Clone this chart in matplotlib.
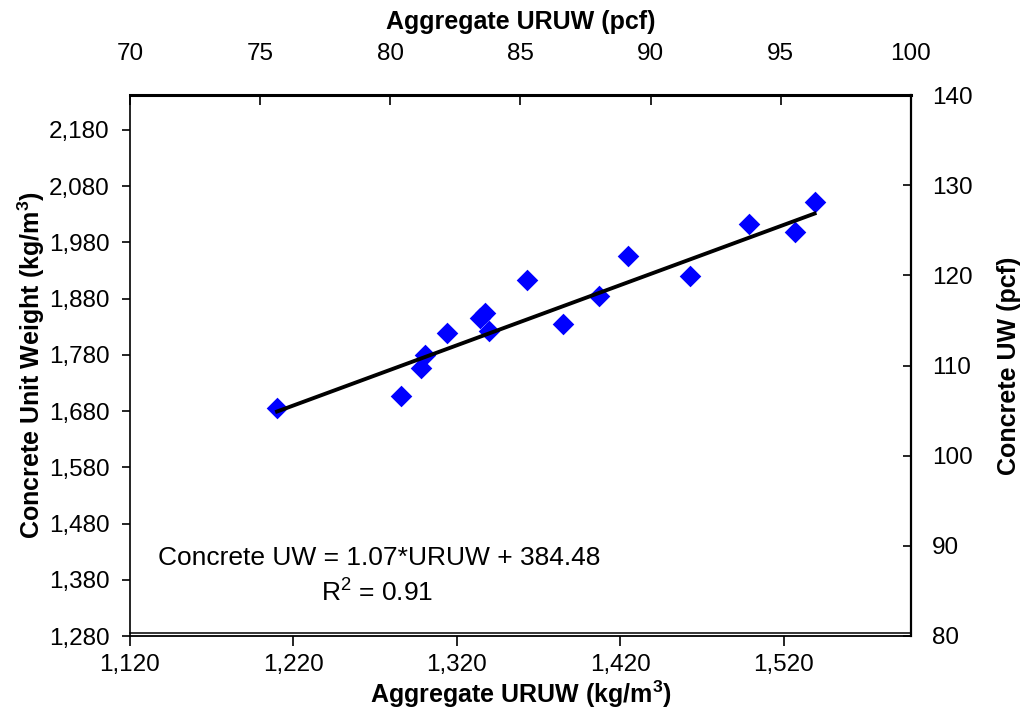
import numpy as np
import matplotlib
matplotlib.use("Agg")
from matplotlib import pyplot as plt
from matplotlib.ticker import FuncFormatter

plt.rcParams['font.family'] = ['Liberation Sans', 'DejaVu Sans']
plt.rcParams['mathtext.fontset'] = 'custom'
plt.rcParams['mathtext.rm'] = 'Liberation Sans'
plt.rcParams['mathtext.bf'] = 'Liberation Sans:bold'
plt.rcParams['mathtext.it'] = 'Liberation Sans:italic'

# Agregado: peso unitario suelto (kg/m3) vs peso unitario del concreto (kg/m3)
uruw = [1210, 1286, 1298, 1300.5, 1314, 1334, 1337, 1340,
        1363, 1385, 1407, 1425, 1463, 1499, 1527, 1539]
cuw = [1686, 1706, 1756, 1779, 1818, 1845, 1854, 1823,
       1913, 1834, 1884, 1956, 1920, 2013, 1998, 2052]

# linea de tendencia reportada
pendiente = 1.07
intercepto = 384.48
r2 = 0.91

x_ticks = [1120, 1220, 1320, 1420, 1520]
y_ticks = [1280, 1380, 1480, 1580, 1680, 1780, 1880, 1980, 2080, 2180]
pcf_x_ticks = [70, 75, 80, 85, 90, 95, 100]
pcf_y_ticks = [80, 90, 100, 110, 120, 130, 140]

fig = plt.figure(figsize=(10.26, 7.14), dpi=100)
ax = fig.add_axes([130/1026, 78/714, 781/1026, 541/714])

ax.scatter(uruw, cuw, marker='D', s=11**2, color='#0000ff', linewidths=0, zorder=2)
xl = np.array([min(uruw), max(uruw)])
ax.plot(xl, pendiente*xl + intercepto, color='black', lw=2.8, zorder=3)

ax.set_xlim(1120, 1598)
ax.set_ylim(1280, 2242)
ax.set_xticks(x_ticks)
ax.set_yticks(y_ticks)
miles = FuncFormatter(lambda v, p: f'{v:,.0f}')
ax.xaxis.set_major_formatter(miles)
ax.yaxis.set_major_formatter(miles)
ax.tick_params(axis='x', direction='out', length=7, width=1.2, pad=6, labelsize=17.5)
ax.tick_params(axis='y', direction='out', length=6, width=1.2, pad=8.5, labelsize=17.5)

# eje superior en pcf
axt = ax.twiny()
axt.set_xlim(70, 100)
axt.set_xticks(pcf_x_ticks)
axt.tick_params(axis='x', direction='in', length=7, width=1.2, pad=21.5, labelsize=17.5)

# eje derecho en pcf
axr = ax.twinx()
axr.set_ylim(80, 140)
axr.set_yticks(pcf_y_ticks)
axr.tick_params(axis='y', direction='in', length=6, width=1.2, pad=15, labelsize=17.5)

for a in (ax, axt, axr):
    for s in a.spines.values():
        s.set_visible(False)
ax.spines['left'].set_visible(True)
ax.spines['left'].set_linewidth(1.2)
ax.spines['bottom'].set_visible(True)
ax.spines['bottom'].set_linewidth(1.3)
axr.spines['bottom'].set_visible(True)
axr.spines['bottom'].set_linewidth(1.1)
axr.spines['bottom'].set_position(('outward', -2.2))
axt.spines['top'].set_visible(True)
axt.spines['top'].set_linewidth(2.2)
axr.spines['right'].set_visible(True)
axr.spines['right'].set_linewidth(1.6)

ax.set_xlabel(r'Aggregate URUW (kg/m$^{\mathbf{3}}$)', fontsize=18, fontweight='bold')
ax.xaxis.set_label_coords(0.5, -0.108)
ax.set_ylabel(r'Concrete Unit Weight (kg/m$^{\mathbf{3}}$)', fontsize=18, fontweight='bold')
ax.yaxis.set_label_coords(-0.127, 0.5)
axt.set_xlabel('Aggregate URUW (pcf)', fontsize=18, fontweight='bold')
axt.xaxis.set_label_coords(0.5, 1.135)
axr.set_ylabel('Concrete UW (pcf)', fontsize=18, fontweight='bold')
axr.yaxis.set_label_coords(1.126, 0.5)
for lab in (ax.xaxis.label, ax.yaxis.label, axt.xaxis.label, axr.yaxis.label):
    lab.set_ha('center')
    lab.set_va('center')

ax.text(0.319, 0.144, f'Concrete UW = {pendiente:.2f}*URUW + {intercepto:.2f}',
        transform=ax.transAxes, ha='center', va='center', fontsize=19)
ax.text(0.316, 0.0795, f'R$^2$ = {r2:.2f}', transform=ax.transAxes,
        ha='center', va='center', fontsize=19)

fig.savefig('out.png', dpi=100)
